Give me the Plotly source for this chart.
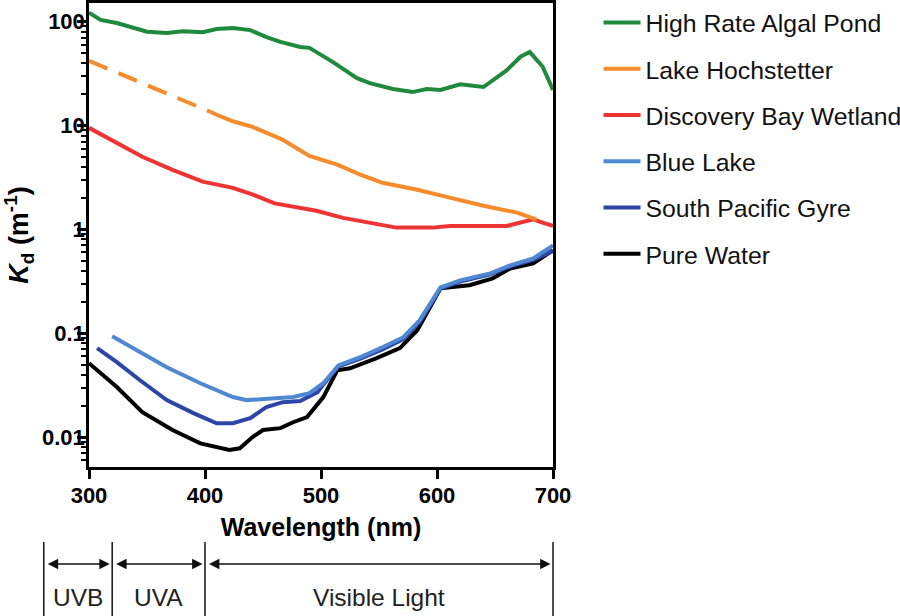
import plotly.graph_objects as go

FONT = "Liberation Sans, Arial, Helvetica, sans-serif"

# ---------------- data ----------------
wl_algal = [300, 310, 324, 350, 367, 381, 398, 410, 424, 439, 453, 465, 482, 490, 510, 531, 542, 562,
            579, 591, 603, 620, 640, 660, 672, 680, 691, 700]
kd_algal = [122, 104, 97, 80, 78, 81, 79, 85, 87, 83, 71, 64, 57, 56, 41, 28.6, 25.6, 22.5,
            21, 22.5, 22, 25, 23.5, 34, 46, 51, 37, 22]

wl_hoch_dash = [300, 405]
kd_hoch_dash = [42, 13.5]
wl_hoch = [405, 410, 424, 441, 467, 490, 514, 534, 553, 583, 611, 640, 669, 686]
kd_hoch = [13.5, 12.7, 11.0, 9.7, 7.3, 5.1, 4.2, 3.36, 2.81, 2.41, 2.02, 1.69, 1.45, 1.24]

wl_disc = [300, 324, 346, 372, 398, 424, 442, 460, 482, 496, 519, 540, 565, 596, 611, 660, 683, 691, 700]
kd_disc = [9.5, 6.8, 5.0, 3.75, 2.88, 2.51, 2.15, 1.78, 1.6, 1.51, 1.29, 1.16, 1.04, 1.04, 1.08, 1.08,
           1.25, 1.16, 1.08]

wl_blue = [320, 338, 367, 396, 424, 436, 453, 476, 490, 502, 515, 534, 553, 571, 585, 603, 620, 646,
           663, 683, 700]
kd_blue = [0.0935, 0.0718, 0.047, 0.033, 0.0243, 0.0227, 0.0232, 0.0243, 0.0265, 0.033, 0.049, 0.0589,
           0.0733, 0.0916, 0.133, 0.277, 0.323, 0.377, 0.451, 0.526, 0.70]

wl_spg = [307, 324, 344, 367, 390, 410, 424, 439, 453, 467, 482, 497, 502, 515, 534, 553, 571, 585,
          603, 620, 646, 663, 683, 700]
kd_spg = [0.0718, 0.0526, 0.0353, 0.0227, 0.017, 0.0136, 0.0136, 0.0152, 0.0195, 0.0217, 0.0222,
          0.0271, 0.032, 0.048, 0.057, 0.070, 0.088, 0.128, 0.27, 0.315, 0.37, 0.44, 0.51, 0.62]

wl_pure = [300, 324, 346, 372, 396, 421, 430, 441, 450, 465, 476, 488, 502, 514, 525, 548, 568, 583,
           603, 628, 648, 663, 683, 700]
kd_pure = [0.0515, 0.0303, 0.0174, 0.0117, 0.0087, 0.0075, 0.0078, 0.0100, 0.0117, 0.0122, 0.0139,
           0.0156, 0.0243, 0.044, 0.046, 0.0575, 0.0718, 0.107, 0.271, 0.29, 0.338, 0.42, 0.47, 0.63]

x_ticks = [300, 400, 500, 600, 700]
y_ticks = [0.01, 0.1, 1, 10, 100]
y_ticktext = ["0.01", "0.1", "1", "10", "100"]

band_names = ["UVB", "UVA", "Visible Light"]
band_edges = [261, 320, 400, 700]

# ---------------- figure ----------------
X_RANGE = [300, 700]
Y_RANGE = [-2.288, 2.18]
W, H = 900, 616
M_L, M_R, M_T, M_B = 89, 347, 3, 149
PLOT_W = W - M_L - M_R
PLOT_H = H - M_T - M_B

fig = go.Figure()

def add_line(x, y, name, color, rank, dash="solid", show=True, group=None):
    fig.add_trace(go.Scatter(
        x=x, y=y, mode="lines", name=name,
        line=dict(color=color, width=4, dash=dash),
        legendgroup=group or name, showlegend=show, legendrank=rank,
        hoverinfo="skip"))

add_line(wl_pure, kd_pure, "Pure Water", "#000000", 6)
add_line(wl_spg, kd_spg, "South Pacific Gyre", "#2c46a8", 5)
add_line(wl_blue, kd_blue, "Blue Lake", "#4f88d2", 4)
add_line(wl_disc, kd_disc, "Discovery Bay Wetland", "#ee3333", 3)
add_line(wl_hoch_dash, kd_hoch_dash, "Lake Hochstetter (dashed)", "#f68b2c", 2,
         dash="20px,12px", show=False, group="Lake Hochstetter")
add_line(wl_hoch, kd_hoch, "Lake Hochstetter", "#f68b2c", 2)
add_line(wl_algal, kd_algal, "High Rate Algal Pond", "#1f8a3c", 1)

axis_common = dict(
    showline=True, linecolor="black", linewidth=2.5, mirror=True,
    ticks="outside", ticklen=9, tickwidth=2.5, tickcolor="black",
    showgrid=False, zeroline=False, automargin=False,
    tickfont=dict(family=FONT, size=22, color="black", weight="bold"),
)

fig.update_xaxes(range=X_RANGE, tickmode="array", tickvals=x_ticks,
                 ticktext=[str(v) for v in x_ticks], ticklabelstandoff=-2,
                 title=dict(text="<b>Wavelength (nm)</b>",
                            font=dict(family=FONT, size=25, color="black"), standoff=12),
                 **axis_common)
fig.update_yaxes(type="log", range=Y_RANGE, tickmode="array", tickvals=y_ticks, ticktext=y_ticktext,
                 ticklabelstandoff=-12,
                 minor=dict(ticks="outside", ticklen=5, tickwidth=2, tickcolor="black",
                            dtick="D1", showgrid=False),
                 title=dict(text="<b><i>K</i><sub>d</sub> (m<sup>-1</sup>)</b>",
                            font=dict(family=FONT, size=27, color="black"), standoff=23),
                 **axis_common)

fig.update_layout(
    width=W, height=H,
    margin=dict(l=M_L, r=M_R, t=M_T, b=M_B, autoexpand=False),
    plot_bgcolor="white", paper_bgcolor="white",
    showlegend=True,
    legend=dict(xref="container", yref="container", x=0.665, y=1.0,
                xanchor="left", yanchor="top",
                font=dict(family=FONT, size=24.8, color="#111111"),
                traceorder="grouped", tracegroupgap=11, itemwidth=37,
                bgcolor="rgba(0,0,0,0)", borderwidth=0),
)

# ---------------- spectral band annotation below the x axis ----------------
PX_PER_NM = PLOT_W / (X_RANGE[1] - X_RANGE[0])

def xpaper(nm):
    return (nm - X_RANGE[0]) / (X_RANGE[1] - X_RANGE[0])

def ypaper(px_from_top):
    return (H - M_B - px_from_top) / PLOT_H

for edge in band_edges:
    fig.add_shape(type="line", xref="paper", yref="paper",
                  x0=xpaper(edge), x1=xpaper(edge), y0=ypaper(542), y1=ypaper(620),
                  line=dict(color="#222222", width=1.6))

for name, lo, hi in zip(band_names, band_edges[:-1], band_edges[1:]):
    gap = 2.5 / PX_PER_NM
    fig.add_annotation(xref="paper", yref="paper", x=xpaper(hi - gap), y=ypaper(564),
                       axref="pixel", ayref="pixel", ax=-(hi - lo - 2 * gap) * PX_PER_NM, ay=0,
                       text="", showarrow=True, arrowside="end+start",
                       arrowhead=2, startarrowhead=2, arrowsize=1.3, startarrowsize=1.3,
                       arrowwidth=1.6, arrowcolor="#111111", standoff=0, startstandoff=0)
    fig.add_annotation(xref="paper", yref="paper", x=xpaper((lo + hi) / 2), y=ypaper(597),
                       text=name, showarrow=False, xanchor="center", yanchor="middle",
                       font=dict(family=FONT, size=24.5, color="#222222"))

fig.write_html("out.html", config={"displayModeBar": False},
               post_script="document.body.style.margin='0px';document.body.style.overflow='hidden';")
